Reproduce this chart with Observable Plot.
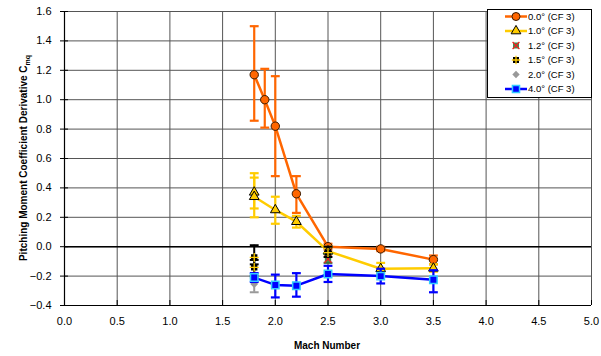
<!DOCTYPE html>
<html><head><meta charset="utf-8">
<script src="https://cdn.jsdelivr.net/npm/d3@7"></script>
<script src="https://cdn.jsdelivr.net/npm/@observablehq/plot@0.6"></script>
<style>
body{margin:0;background:#fff;}
#chart{position:relative;width:601px;height:356px;font-family:"Liberation Sans",Arial,sans-serif;}
#chart svg{overflow:visible;}
</style></head><body><div id="chart"></div>
<script>
const xTicks = [0,0.5,1,1.5,2,2.5,3,3.5,4,4.5,5];
const yTicks = [-0.4,-0.2,0,0.2,0.4,0.6,0.8,1.0,1.2,1.4,1.6];

// 0.0° (CF 3)
const mach00 = [1.8,1.9,2.0,2.2,2.5,3.0,3.5];
const cmq00  = [1.17,1.00,0.82,0.36,0.00,-0.015,-0.088];
const lo00   = [0.857,0.81,0.48,0.23,-0.02,-0.03,-0.12];
const hi00   = [1.50,1.21,1.16,0.48,0.02,0.0,-0.06];
// 1.0° (CF 3)
const mach10 = [1.8,1.8,2.0,2.2,2.5,3.0,3.5];
const cmq10  = [0.37,0.34,0.25,0.17,-0.03,-0.15,-0.147];
const lo10   = [0.26,0.20,0.156,0.13,-0.05,-0.18,-0.17];
const hi10   = [0.50,0.47,0.34,0.21,0.0,-0.11,-0.12];
// 1.2° (CF 3)
const mach12 = [2.5];
const cmq12  = [-0.084];
const lo12   = [-0.11];
const hi12   = [-0.05];
// 1.5° (CF 3)
const mach15 = [1.8,1.8,2.5];
const cmq15  = [-0.073,-0.14,-0.04];
const lo15   = [-0.12,-0.20,-0.07];
const hi15   = [0.01,-0.09,0.0];
// 2.0° (CF 3)
const mach20 = [1.8];
const cmq20  = [-0.254];
const lo20   = [-0.31];
const hi20   = [-0.21];
// 4.0° (CF 3)
const mach40 = [1.8,2.0,2.2,2.5,3.0,3.5];
const cmq40  = [-0.21,-0.26,-0.265,-0.186,-0.20,-0.225];
const lo40   = [-0.24,-0.345,-0.34,-0.24,-0.25,-0.31];
const hi40   = [-0.18,-0.19,-0.18,-0.13,-0.15,-0.16];

const names = ["0.0° (CF 3)","1.0° (CF 3)","1.2° (CF 3)","1.5° (CF 3)","2.0° (CF 3)","4.0° (CF 3)"];

function rows(m,c,l,h){ return m.map((x,i)=>({x, y:c[i], lo:l[i], hi:h[i]})); }
const s00 = rows(mach00,cmq00,lo00,hi00);
const s10 = rows(mach10,cmq10,lo10,hi10);
const s12 = rows(mach12,cmq12,lo12,hi12);
const s15 = rows(mach15,cmq15,lo15,hi15);
const s20 = rows(mach20,cmq20,lo20,hi20);
const s40 = rows(mach40,cmq40,lo40,hi40);

const cap = {draw(ctx, size){ const w = Math.sqrt(size)/2; ctx.moveTo(-w,0); ctx.lineTo(w,0); }};

function errs(data, color, sw=2){
  return [
    Plot.ruleX(data,{x:"x",y1:"lo",y2:"hi",stroke:color,strokeWidth:sw}),
    Plot.dot(data,{x:"x",y:"lo",symbol:cap,r:5,stroke:color,strokeWidth:sw,fill:"none"}),
    Plot.dot(data,{x:"x",y:"hi",symbol:cap,r:5,stroke:color,strokeWidth:sw,fill:"none"})
  ];
}

const chart = Plot.plot({
  width:601, height:356,
  marginLeft:64, marginRight:10, marginTop:11, marginBottom:51,
  style:{fontFamily:"'Liberation Sans', Arial, sans-serif", fontSize:"11px", color:"#000", background:"#fff"},
  x:{domain:[0,5]},
  y:{domain:[-0.4,1.6]},
  marks:[
    Plot.gridX(xTicks,{stroke:"#555",strokeOpacity:1,strokeWidth:1}),
    Plot.gridY(yTicks,{stroke:"#555",strokeOpacity:1,strokeWidth:1}),
    Plot.ruleY([0],{stroke:"#000",strokeWidth:1.6}),
    Plot.ruleX([0],{stroke:"#000",strokeWidth:1.2}),
    Plot.ruleY([-0.4],{stroke:"#000",strokeWidth:1.2}),
    Plot.axisY({ticks:yTicks,tickFormat:d3.format(".1f"),tickSize:4,tickPadding:9,label:null,fontSize:11}),
    Plot.axisY({ticks:yTicks,tickSize:-4,text:null,label:null}),
    Plot.axisX({ticks:xTicks,tickFormat:d3.format(".1f"),tickSize:-5,tickPadding:17,label:null,fontSize:11}),
    // 0.0°
    ...errs(s00,"#FF6600",2.2),
    Plot.line(s00,{x:"x",y:"y",stroke:"#FF6600",strokeWidth:2.5}),
    Plot.dot(s00,{x:"x",y:"y",symbol:"circle",r:4.2,fill:"#FF6600",stroke:"#3a1a00",strokeWidth:1}),
    // 1.0°
    ...errs(s10,"#FFCC00",2.2),
    Plot.line(s10,{x:"x",y:"y",stroke:"#FFCC00",strokeWidth:2.5}),
    Plot.dot(s10,{x:"x",y:"y",symbol:"triangle",r:3.6,fill:"#FFCC00",stroke:"#000",strokeWidth:1}),
    // 1.2°
    ...errs(s12,"#3a6a3a",2),
    Plot.dot(s12,{x:"x",y:"y",symbol:"square",r:3.6,fill:"#3d8f52",stroke:"none"}),
    Plot.dot(s12,{x:"x",y:"y",symbol:"times",r:3.4,stroke:"#ee2222",strokeWidth:1.3,fill:"none"}),
    // 1.5°
    ...errs(s15,"#000",2),
    Plot.dot(s15,{x:"x",y:"y",symbol:"square",r:3.6,fill:"#000",stroke:"none"}),
    Plot.dot(s15,{x:"x",y:"y",symbol:"plus",r:3,stroke:"#FFCC00",strokeWidth:1.3,fill:"none"}),
    // 2.0°
    ...errs(s20,"#999",2),
    Plot.dot(s20,{x:"x",y:"y",symbol:"diamond2",r:3.5,fill:"#999",stroke:"none"}),
    // 4.0°
    ...errs(s40,"#0000FF",2.2),
    Plot.line(s40,{x:"x",y:"y",stroke:"#0000FF",strokeWidth:2.5}),
    Plot.dot(s40,{x:"x",y:"y",symbol:"square",r:4.2,fill:"#0000FF",stroke:"#33CCFF",strokeWidth:1.5})
  ]
});

const host = document.getElementById("chart");
host.appendChild(chart);

const svg = d3.select(chart);
// y-axis title with subscript
const yt = svg.append("text")
  .attr("transform","translate(27,158) rotate(-90)")
  .attr("text-anchor","middle")
  .attr("font-weight","bold").attr("font-size",10).attr("fill","#000");
yt.append("tspan").text("Pitching Moment Coefficient Derivative C");
yt.append("tspan").attr("font-size",7).attr("dy",2.5).text("mq");
// x-axis title
svg.append("text").attr("x",327).attr("y",349)
  .attr("text-anchor","middle").attr("font-weight","bold").attr("font-size",10).attr("fill","#000")
  .text("Mach Number");

// Legend
const lg = svg.append("g").attr("transform","translate(487,9)").attr("text-anchor","start");
lg.append("rect").attr("x",0.5).attr("y",0.5).attr("width",104).attr("height",88)
  .attr("fill","#fff").attr("stroke","#000").attr("stroke-width",1);
const sym = (t,r)=>d3.symbol(t, r*r*Math.PI)();
const rowsY = [7.5,22,36.5,51,65.5,80];
const specs = [
  {line:"#FF6600", draw:g=>g.append("path").attr("d",sym(d3.symbolCircle,4)).attr("fill","#FF6600").attr("stroke","#3a1a00")},
  {line:"#FFCC00", draw:g=>g.append("path").attr("d",sym(d3.symbolTriangle,3.6)).attr("fill","#FFCC00").attr("stroke","#000")},
  {line:null, draw:g=>{g.append("path").attr("d",sym(d3.symbolSquare,3.4)).attr("fill","#3d8f52");
                      g.append("path").attr("d",sym(d3.symbolTimes,3.2)).attr("fill","none").attr("stroke","#ee2222").attr("stroke-width",1.3);}},
  {line:null, draw:g=>{g.append("path").attr("d",sym(d3.symbolSquare,3.4)).attr("fill","#000");
                      g.append("path").attr("d",sym(d3.symbolPlus,2.8)).attr("fill","none").attr("stroke","#FFCC00").attr("stroke-width",1.3);}},
  {line:null, draw:g=>g.append("path").attr("d",sym(d3.symbolDiamond2,3.3)).attr("fill","#999")},
  {line:"#0000FF", draw:g=>g.append("path").attr("d",sym(d3.symbolSquare,4)).attr("fill","#0000FF").attr("stroke","#33CCFF").attr("stroke-width",1.5)}
];
names.forEach((n,i)=>{
  const y = rowsY[i];
  if (specs[i].line) lg.append("line").attr("x1",18).attr("x2",40).attr("y1",y).attr("y2",y)
      .attr("stroke",specs[i].line).attr("stroke-width",2.5);
  const g = lg.append("g").attr("transform",`translate(29,${y})`);
  specs[i].draw(g);
  lg.append("text").attr("x",41).attr("y",y+3.3).attr("text-anchor","start")
    .attr("font-size",9.5).attr("fill","#000").text(n);
});
</script>
</body></html>
